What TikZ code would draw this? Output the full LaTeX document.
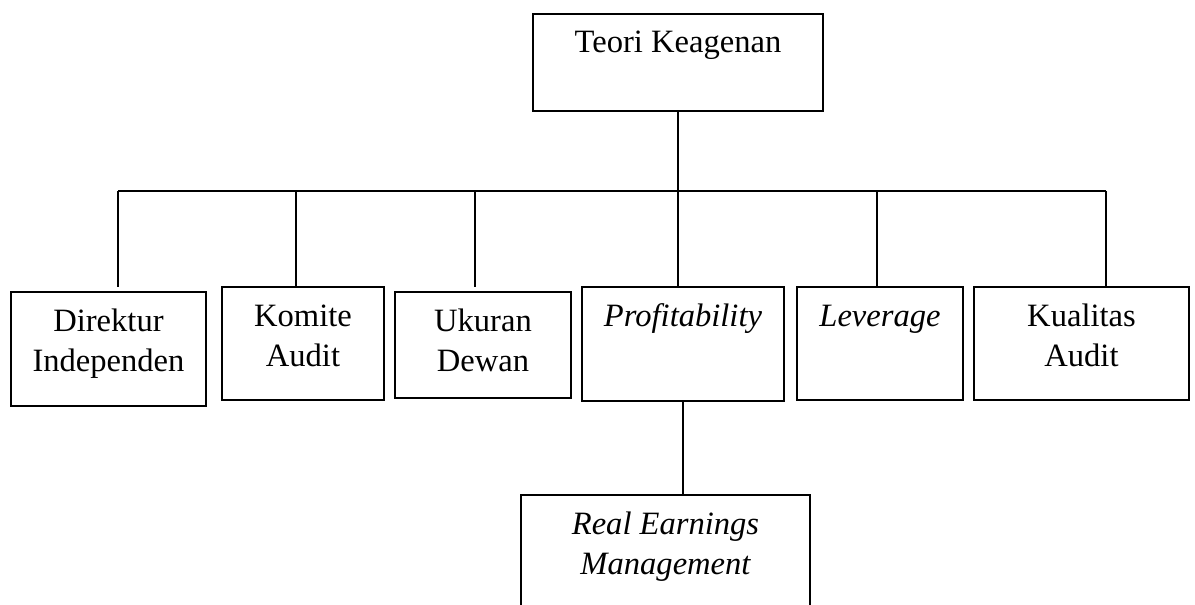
\documentclass[tikz,border=0pt]{standalone}
\usepackage{fontspec}
\setmainfont{Liberation Serif}
\usetikzlibrary{positioning,calc,fit}

\tikzset{
  box/.style = {draw, line width = .65pt, inner sep = 0pt},
  lbl/.style = {anchor = base, inner sep = 0pt, font = \fontsize{12.4}{15.4}\selectfont},
  link/.style = {line width = .55pt}
}

\newcommand{\boxtext}[1]{\parbox[t]{4cm}{\centering #1}}

\begin{document}
\begin{tikzpicture}[x = 0.013389cm, y = -0.013389cm]

\clip (0,0) rectangle (1195,605);

% top box
\node[box, fit = {(533,14) (823,111)}] (teori) {};
\node[lbl] (teoriT) at ($(teori.north)+(0,39)$) {Teori Keagenan};

%%%%%%%%%%%%%%%%%%%%%%%%%%%%%%%%

% second row
\node[box, fit = {(11,292) (206,406)}] (dir) {};
\node[box, fit = {(222,287) (384,400)}] (kom) {};
\node[box, fit = {(395,292) (571,398)}] (uku) {};
\node[box, fit = {(582,287) (784,401)}] (pro) {};
\node[box, fit = {(797,287) (963,400)}] (lev) {};
\node[box, fit = {(974,287) (1189,400)}] (kua) {};

\node[lbl] (dirT) at ($(dir.north)+(0,40)$) {\boxtext{Direktur\\Independen}};
\node[lbl] (komT) at ($(kom.north)+(0,40)$) {\boxtext{Komite\\Audit}};
\node[lbl] (ukuT) at ($(uku.north)+(0,40)$) {\boxtext{Ukuran\\Dewan}};
\node[lbl] (proT) at ($(pro.north)+(0,40)$) {\textit{Profitability}};
\node[lbl] (levT) at ($(lev.north)+(0,40)$) {\textit{Leverage}};
\node[lbl] (kuaT) at ($(kua.north)+(0,40)$) {\boxtext{Kualitas\\Audit}};

%%%%%%%%%%%%%%%%%%%%%%%%%%%%%%%%

% bottom box
\node[box, fit = {(521,495) (810,650)}] (rem) {};
\node[lbl] (remT) at ($(rem.north)+(0,40)$) {\boxtext{\itshape Real Earnings\\Management}};

%%%%%%%%%%%%%%%%%%%%%%%%%%%%%%%%

% connectors
\coordinate (bus) at (678,191);
\coordinate (dDir) at (118,287);
\coordinate (dKom) at (296,287);
\coordinate (dUku) at (475,287);
\coordinate (dPro) at (678,287);
\coordinate (dLev) at (877,287);
\coordinate (dKua) at (1106,287);

\draw[link] (teori.south) -- (teori.south |- bus);
\draw[link] (dDir |- bus) -- (dKua |- bus);

\foreach \d in {dDir, dKom, dUku, dPro, dLev, dKua}
  \draw[link] (\d |- bus) -- (\d);

\draw[link] (pro.south) -- (pro.south |- rem.north);

\end{tikzpicture}
\end{document}
